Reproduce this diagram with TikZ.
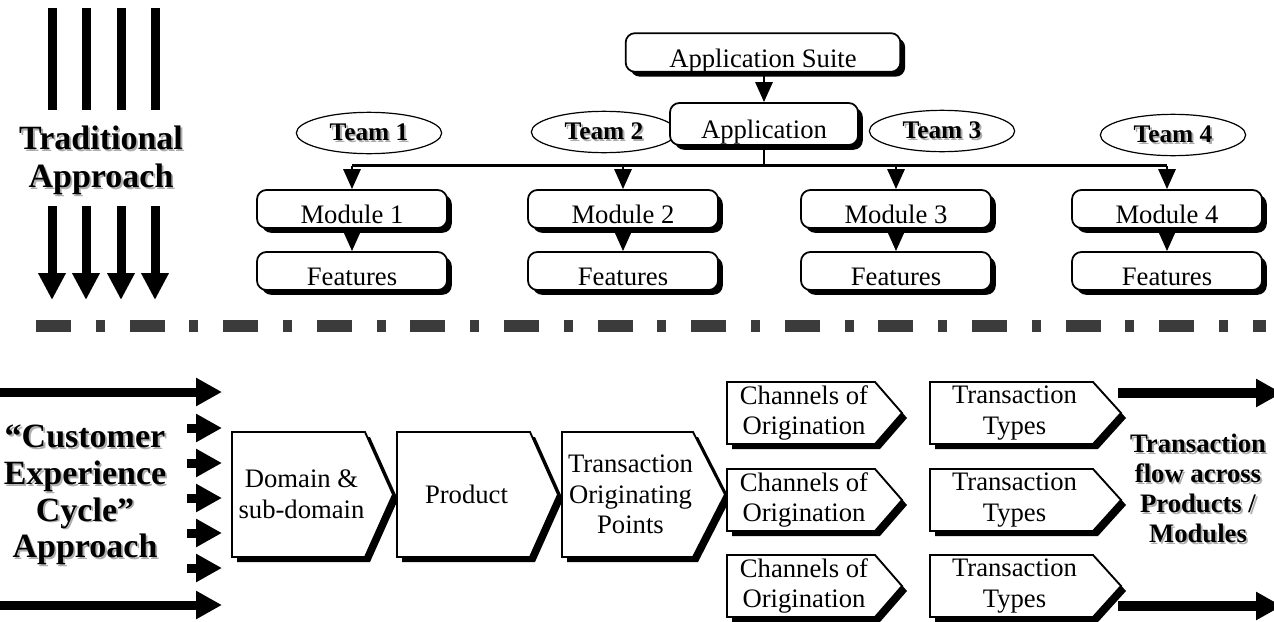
\documentclass[tikz,border=0pt]{standalone}
\usepackage{fontspec}
\setmainfont{Liberation Serif}
\usetikzlibrary{arrows.meta,shapes.geometric,shadows}

% bold heading text with a soft grey offset copy behind it
\newcommand\shtext[1]{\makebox[0pt][l]{\hspace*{1.4pt}\raisebox{-1.4pt}{\color{black!32}#1}}#1}

% chevron step: name, left, top, right, bottom, tip x, text
\newcommand\chevron[7]{%
  \fill[black] ({#2+5},{#3+5}) -- ({#4+5},{#3+5}) -- ({#6+5},{(#3+#5)/2+5})
     -- ({#4+5},{#5+5}) -- ({#2+5},{#5+5}) -- cycle;
  \draw[chevline] (#2,#3) -- (#4,#3) -- (#6,{(#3+#5)/2}) -- (#4,#5) -- (#2,#5) -- cycle;
  \node[chevtext] (#1) at ({(#2+#4)/2+3},{(#3+#5)/2}) {#7};
}

\begin{document}
\begin{tikzpicture}[x=0.75pt,y=-0.75pt,
  box/.style={draw, line width=1.3pt, fill=white, rounded corners=7pt,
    minimum width=142.5pt, minimum height=28.5pt, inner sep=0pt,
    text height=22pt, text depth=0pt, font=\fontsize{20}{24}\selectfont,
    drop shadow={shadow xshift=3.6pt, shadow yshift=-3.6pt, fill=black, opacity=1}},
  team/.style={ellipse, draw, line width=0.9pt, fill=white, minimum width=109pt,
    minimum height=31pt, inner sep=0pt, font=\bfseries\fontsize{19}{22}\selectfont},
  conn/.style={line width=2.2pt},
  arr/.style={conn, -{Triangle[length=15pt,width=12.75pt]}},
  bar/.style={line width=6.75pt},
  bigarrow/.style={line width=6.75pt, -{Triangle[length=19.5pt,width=20pt]}},
  chevline/.style={line width=1.4pt, fill=white, line join=miter},
  chevtext/.style={align=center, inner sep=0pt, font=\fontsize{20}{23}\selectfont},
  title/.style={align=center, inner sep=0pt, font=\bfseries\fontsize{25.5}{28.5}\selectfont},
  flowtitle/.style={align=center, inner sep=0pt, font=\bfseries\fontsize{20}{22.5}\selectfont},
  divider/.style={line width=8.5pt, color=black!77,
    dash pattern=on 26.25pt off 18.6pt on 6.75pt off 18.6pt}]

\useasboundingbox (0,0) rectangle (1274,621);

% ---------- traditional approach ----------
\foreach \x in {52,86,121,155} {
  \draw[bar] (\x,8) -- (\x,110);
  \draw[line width=6.75pt, -{Triangle[length=20.25pt,width=19.5pt]}] (\x,206) -- (\x,300);
}
\node[title] (trad) at (101,161) {\shtext{Traditional}\\\shtext{Approach}};

% teams (behind the boxes)
\node[team] (t1) at (369,133) {\shtext{Team 1}};
\node[team] (t2) at (604,132) {\shtext{Team 2}};
\node[team] (t3) at (942,131) {\shtext{Team 3}};
\node[team] (t4) at (1173,135) {\shtext{Team 4}};

% hierarchy
\node[box, minimum width=206pt, minimum height=29pt] (suite) at (763,52.5) {Application Suite};
\node[box, minimum width=141pt, minimum height=31.5pt] (app) at (764,124) {Application};

\node[box] (m1) at (352,209) {Module 1};
\node[box] (m2) at (623,209) {Module 2};
\node[box] (m3) at (896,209) {Module 3};
\node[box] (m4) at (1167,209) {Module 4};

\node[box] (f1) at (352,271) {Features};
\node[box] (f2) at (623,271) {Features};
\node[box] (f3) at (896,271) {Features};
\node[box] (f4) at (1167,271) {Features};

\draw[arr] (suite.south -| app.north) -- (app.north);
\draw[conn] (app.south) -- ++(0,20) coordinate (bus);
\draw[conn] (m1.north |- bus) -- (m4.north |- bus);
\foreach \i in {1,2,3,4} {
  \draw[arr] (m\i.north |- bus) -- (m\i.north);
  \draw[arr] (m\i.south) -- (f\i.north);
}

% ---------- divider ----------
\draw[divider] (36,326) -- (1266,326);

% ---------- customer experience cycle ----------
\node[title, font=\bfseries\fontsize{25.5}{27.5}\selectfont] (cec) at (85,496)
  {\shtext{“Customer}\\\shtext{Experience}\\\shtext{Cycle”}\\\shtext{Approach}};

\coordinate (la1) at (0,392);   \coordinate (lb1) at (222,392);
\coordinate (la7) at (0,605);   \coordinate (lb7) at (222,605);
\draw[bigarrow] (la1) -- (lb1);
\draw[bigarrow] (la7) -- (lb7);
\foreach \y [count=\k from 2] in {428,463,498,533,568} {
  \coordinate (la\k) at (187,\y);
  \coordinate (lb\k) at (222,\y);
  \draw[bigarrow] (la\k) -- (lb\k);
}

\chevron{dom}{232}{432}{365}{557}{393}{Domain \&\\sub-domain}
\chevron{prod}{397}{432}{530}{557}{558}{Product}
\chevron{top}{562}{432}{693}{557}{725}{Transaction\\Originating\\Points}

\foreach \c [count=\r] in {413,500,586} {
  \chevron{ch\r}{727}{\c-31}{875}{\c+31}{902}{Channels of\\Origination}
  \chevron{tt\r}{930}{\c-31}{1093}{\c+31}{1121}{Transaction\\Types}
}

\coordinate (ra1) at (1118,393);  \coordinate (rb1) at (1282,393);
\coordinate (ra2) at (1118,606);  \coordinate (rb2) at (1282,606);
\draw[bigarrow, line width=7.5pt] (ra1) -- (rb1);
\draw[bigarrow, line width=7.5pt] (ra2) -- (rb2);

\node[flowtitle] (flow) at (1198,489)
  {\shtext{Transaction}\\\shtext{flow across}\\\shtext{Products /}\\\shtext{Modules}};

\end{tikzpicture}
\end{document}
